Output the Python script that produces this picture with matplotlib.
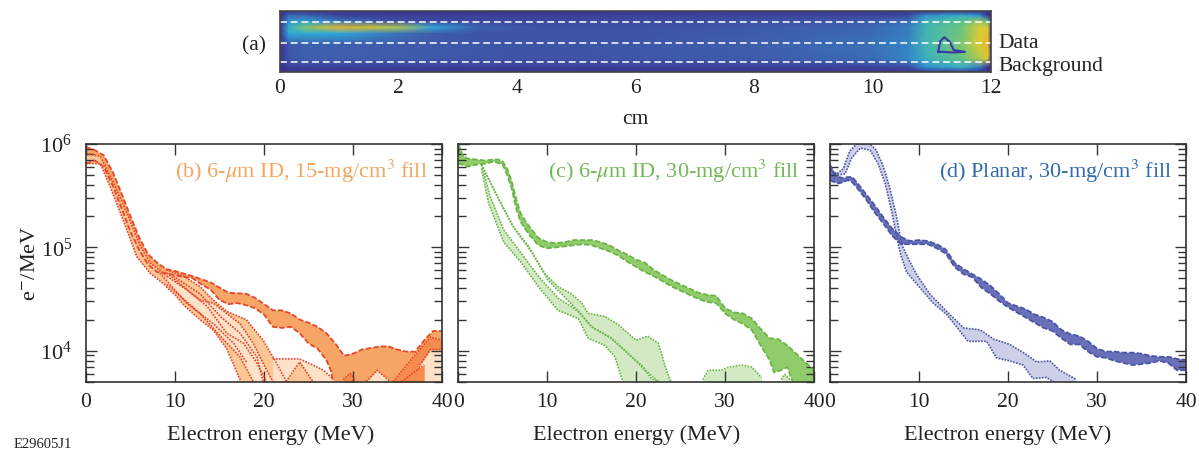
import numpy as np
import matplotlib
matplotlib.use('Agg')
import matplotlib.pyplot as plt
from matplotlib.colors import LinearSegmentedColormap

plt.rcParams['font.family'] = ['Liberation Serif', 'DejaVu Serif']
plt.rcParams['mathtext.fontset'] = 'stix'

W, H = 1199, 451

# Panel (a) image, read by eye on a coarse grid
img_x = [0, 0.15, 0.4, 1, 2, 2.6, 3.3, 4.5, 6, 8, 10, 10.6, 10.9, 11.5, 11.8, 11.95, 12]
img_y = [0, 0.08, 0.17, 0.27, 0.37, 0.55, 0.78, 0.92, 1]
img_z = [
    [.02, .04, .05, .05, .04, .04, .04, .04, .04, .05, .05, .05, .05, .06, .04, .02, .02],
    [.03, .24, .24, .10, .09, .09, .09, .09, .10, .11, .12, .14, .34, .46, .35, .05, .02],
    [.03, .35, .38, .28, .14, .13, .13, .13, .14, .16, .20, .25, .48, .60, .70, .62, .03],
    [.04, .45, .66, .92, .74, .40, .22, .16, .16, .19, .23, .29, .50, .64, .80, .80, .04],
    [.04, .40, .42, .40, .26, .20, .17, .17, .17, .20, .24, .29, .50, .64, .80, .85, .04],
    [.04, .19, .21, .21, .20, .19, .18, .17, .18, .21, .26, .31, .50, .66, .80, .90, .04],
    [.04, .17, .21, .21, .20, .19, .18, .17, .18, .20, .24, .31, .47, .62, .74, .80, .03],
    [.03, .09, .11, .11, .11, .09, .09, .09, .09, .10, .12, .14, .34, .46, .30, .03, .02],
    [.02, .03, .04, .04, .04, .04, .04, .04, .04, .04, .05, .05, .05, .06, .03, .02, .02],
]
contour_x = [11.11, 11.14, 11.21, 11.30, 11.37, 11.56, 11.37, 11.19, 11.11]
contour_y = [0.67, 0.50, 0.43, 0.50, 0.64, 0.67, 0.68, 0.67, 0.67]
dash_y = [0.175, 0.53, 0.84]
img_ticks = [0, 2, 4, 6, 8, 10, 12]

# Panel (b), values are log10(e-/MeV)
b_main_xh = [0, 1, 2, 3, 4, 5, 6, 7, 8, 9, 10, 12, 14, 15, 16, 18, 19, 20, 21, 22, 23, 24, 25, 26, 27, 28, 29, 30, 31, 33, 34, 35, 36, 37, 38, 39, 40]
b_main_yh = [5.97, 5.94, 5.89, 5.73, 5.52, 5.30, 5.09, 4.93, 4.85, 4.79, 4.77, 4.72, 4.66, 4.61, 4.56, 4.55, 4.51, 4.45, 4.39, 4.39, 4.36, 4.30, 4.27, 4.23, 4.17, 4.07, 3.95, 3.97, 4.01, 4.04, 4.04, 4.01, 3.99, 3.99, 4.10, 4.19, 4.19]
b_main_xl = [0, 1, 2, 3, 4, 5, 6, 7, 8, 9, 10, 12, 13, 14, 15, 16, 17, 18, 19, 20, 21, 22, 23, 24, 25, 26, 27, 27.5, 28, 40]
b_main_yl = [5.81, 5.84, 5.78, 5.60, 5.38, 5.15, 4.97, 4.83, 4.76, 4.75, 4.73, 4.70, 4.64, 4.59, 4.49, 4.45, 4.46, 4.44, 4.41, 4.35, 4.23, 4.22, 4.23, 4.17, 4.07, 4.02, 3.91, 3.81, 3.60, 3.60]
b_start_xh = [0, 1.6, 3.1, 4.6, 6.1, 7.2, 9.1]
b_start_yh = [5.91, 5.88, 5.62, 5.33, 5.01, 4.85, 4.72]
b_start_xl = [0, 1.6, 2.7, 4.2, 5.7, 7.2, 9.1]
b_start_yl = [5.81, 5.81, 5.59, 5.26, 4.91, 4.75, 4.62]
b_one_xh = [9, 10, 11, 12.8, 14.3, 15.8, 18, 19.9, 21.4, 22.5]
b_one_yh = [4.78, 4.75, 4.72, 4.62, 4.49, 4.38, 4.30, 4.10, 3.88, 3.70]
b_one_xl = [9, 10, 11, 12.8, 14.3, 15.8, 17.3, 18, 22.5]
b_one_yl = [4.62, 4.54, 4.44, 4.30, 4.20, 4.02, 3.72, 3.60, 3.60]
b_two_xh = [9.1, 12.8, 14.3, 17.3, 18.8, 20.3, 21]
b_two_yh = [4.75, 4.49, 4.46, 4.26, 4.07, 3.81, 3.70]
b_two_xl = [9.1, 12.8, 15.1, 17.3, 18.8, 21]
b_two_yl = [4.64, 4.36, 4.14, 3.94, 3.70, 3.60]
# extra dotted curves inside the bundle
b_lines = [
    ([9.1, 11.3, 13.6, 15.8, 17.7, 19.2, 20.3], [4.72, 4.59, 4.43, 4.17, 4.07, 3.88, 3.70]),
    ([9.8, 12.8, 15.1, 17.3, 19.2, 19.9], [4.72, 4.55, 4.33, 4.17, 3.94, 3.70]),
    ([8.3, 11.3, 14.3, 16.6, 18.1], [4.75, 4.46, 4.26, 4.07, 3.88]),
]
# pieces that only just rise above the bottom axis: x, top, fill kind
b_humps = [
    ([21, 24, 25.5, 26.7, 27.8], [3.92, 3.92, 3.86, 3.81, 3.72], 'pale'),
    ([22.5, 24, 25.5], [3.70, 3.89, 3.70], 'light'),
    ([34.5, 36.8, 38.7, 40], [3.70, 3.94, 4.13, 4.10], 'deep'),
    ([37.5, 38.7, 40], [3.86, 4.01, 4.01], 'pale'),
    ([35.5, 37, 38], [3.70, 3.80, 3.86], 'deep'),
    ([31.5, 32.7, 34.2], [3.70, 3.81, 3.70], 'pale'),
    ([28.9, 29.7, 30.2], [3.72, 3.78, 3.72], 'deep'),
]

# Panel (c)
c_main_xh = [0, .5, 1, 2, 3, 4, 4.5, 5, 5.5, 6, 6.5, 7, 7.5, 8, 9, 10, 11, 12, 13, 14, 15, 16, 17, 18, 19, 20, 21, 22, 23, 24, 25, 26, 27, 28, 29, 30, 31, 32, 33, 34, 35, 36, 37, 38, 39, 40]
c_main_yh = [6.00, 5.89, 5.86, 5.85, 5.84, 5.85, 5.85, 5.83, 5.76, 5.64, 5.47, 5.33, 5.26, 5.20, 5.09, 5.05, 5.04, 5.05, 5.07, 5.07, 5.07, 5.05, 5.02, 4.97, 4.93, 4.88, 4.85, 4.78, 4.73, 4.68, 4.64, 4.60, 4.56, 4.54, 4.53, 4.41, 4.37, 4.36, 4.31, 4.21, 4.12, 4.11, 4.05, 3.97, 3.89, 3.81]
c_main_xl = [0, .5, 1, 2, 3, 4, 5, 5.5, 6, 6.5, 7, 7.5, 8, 9, 10, 11, 12, 13, 14, 15, 16, 17, 18, 19, 20, 21, 22, 23, 24, 25, 26, 27, 28, 29, 30, 31, 32, 33, 34, 35, 35.5, 36, 37, 38, 40]
c_main_yl = [5.81, 5.80, 5.78, 5.80, 5.81, 5.83, 5.80, 5.70, 5.57, 5.38, 5.25, 5.18, 5.12, 5.02, 4.99, 5.00, 5.01, 5.02, 5.03, 5.02, 4.99, 4.96, 4.92, 4.86, 4.81, 4.76, 4.72, 4.67, 4.62, 4.58, 4.54, 4.50, 4.47, 4.46, 4.36, 4.30, 4.26, 4.20, 4.05, 3.91, 3.79, 3.80, 3.84, 3.60, 3.60]
c_up_xh = [2.6, 4.5, 6.0, 7.9, 9.7, 11.2, 12.7, 13.9, 14.6, 16.5, 18.0, 20.0, 21.3, 22.5, 23.4, 23.9]
c_up_yh = [5.80, 5.47, 5.22, 5.01, 4.75, 4.62, 4.55, 4.46, 4.36, 4.33, 4.25, 4.10, 4.14, 4.07, 3.81, 3.70]
c_up_xl = [2.6, 4.9, 6.4, 8.2, 10.1, 11.6, 13.5, 15.0, 17.2, 19.5, 21.0, 22.5]
c_up_yl = [5.80, 5.41, 5.17, 4.96, 4.68, 4.55, 4.38, 4.23, 4.12, 3.94, 3.81, 3.70]
c_low_xh = [2.6, 3.6, 5.1, 7.1, 9.0, 11.2, 13.5, 15.0, 17.2, 19.5, 20.6, 21.7, 22.5]
c_low_yh = [5.80, 5.49, 5.17, 4.94, 4.72, 4.51, 4.38, 4.23, 4.12, 3.94, 3.86, 3.73, 3.70]
c_low_xl = [2.6, 3.4, 5.1, 7.1, 9.0, 11.2, 13.5, 14.6, 16.5, 17.6, 18.5]
c_low_yl = [5.76, 5.43, 5.05, 4.85, 4.62, 4.39, 4.31, 4.12, 4.05, 3.94, 3.70]
c_humps = [
    ([27.5, 28.1, 29.6, 30.4, 31.9, 33, 34.1], [3.72, 3.81, 3.81, 3.84, 3.86, 3.84, 3.74], 'pale'),
    ([36.3, 36.7, 37.3], [3.72, 3.77, 3.72], 'pale'),
]

# Panel (d)
d_main_x = [0, .5, 1, 1.5, 2, 2.5, 3, 4, 5, 6, 7, 8, 9, 10, 11, 12, 13, 14, 15, 16, 17, 18, 19, 20, 21, 22, 23, 24, 25, 26, 27, 28, 29, 30, 31, 32, 33, 34, 35, 36, 37, 38, 39, 40]
d_main_yh = [5.80, 5.71, 5.68, 5.67, 5.68, 5.68, 5.63, 5.52, 5.41, 5.29, 5.18, 5.10, 5.06, 5.07, 5.06, 5.03, 4.98, 4.85, 4.79, 4.74, 4.69, 4.63, 4.55, 4.46, 4.43, 4.40, 4.35, 4.32, 4.28, 4.20, 4.16, 4.14, 4.09, 4.02, 3.99, 3.99, 3.98, 3.98, 3.97, 3.95, 3.94, 3.94, 3.92, 3.91]
d_main_yl = [5.65, 5.63, 5.62, 5.63, 5.65, 5.63, 5.58, 5.47, 5.34, 5.23, 5.11, 5.03, 5.03, 5.03, 5.03, 4.99, 4.94, 4.81, 4.74, 4.71, 4.61, 4.55, 4.48, 4.42, 4.37, 4.32, 4.27, 4.22, 4.19, 4.12, 4.06, 4.06, 3.99, 3.94, 3.93, 3.90, 3.88, 3.86, 3.87, 3.88, 3.90, 3.88, 3.81, 3.81]
d_hump_xh = [0, .75, 1.5, 2.2, 3, 4.5, 5.2, 6, 6.7, 7.5, 7.9, 8.2, 8.8, 9.7, 11.2, 13.1, 15, 16.9, 18.4, 20.2, 22.1, 23.2, 24.7, 25.8, 27.7]
d_hump_yh = [5.76, 5.71, 5.76, 5.93, 6.00, 6.00, 5.94, 5.78, 5.58, 5.29, 5.10, 5.00, 4.89, 4.74, 4.55, 4.38, 4.22, 4.20, 4.11, 4.06, 3.96, 3.89, 3.90, 3.81, 3.72]
d_hump_xl = [0, .9, 1.7, 2.4, 3.4, 4.5, 5.4, 6.2, 6.9, 7.5, 7.9, 8.6, 10.1, 11.6, 13.1, 14.6, 15.5, 17.6, 18.7, 20.2, 21.7, 22.8, 24.3, 25.1, 27.7]
d_hump_yl = [5.75, 5.70, 5.71, 5.86, 5.96, 5.94, 5.81, 5.62, 5.36, 5.10, 4.94, 4.76, 4.61, 4.46, 4.35, 4.19, 4.09, 4.09, 3.93, 3.90, 3.86, 3.73, 3.74, 3.70, 3.60]

energy_ticks = [0, 10, 20, 30, 40]
count_ticks = [1e4, 1e5, 1e6]

DOTS = (0, (1, 0.8))
DASH = (0, (3, 1.2))


def add_axes(left, top, right, bottom):
    return fig.add_axes([left / W, 1 - bottom / H, (right - left) / W, (bottom - top) / H])


def band(ax, xh, yh, xl, yl, fill, edge, ls, lw):
    xs = np.r_[xh, np.array(xl)[::-1]]
    ys = 10.0 ** np.r_[yh, np.array(yl)[::-1]]
    ax.fill(xs, ys, color=fill, lw=0)
    ax.plot(xh, 10.0 ** np.array(yh), color=edge, ls=ls, lw=lw)
    ax.plot(xl, 10.0 ** np.array(yl), color=edge, ls=ls, lw=lw)


def hump(ax, x, top, fill, edge):
    ax.fill_between(x, 10.0 ** np.array(top), 1e3, color=fill, lw=0)
    ax.plot(x, 10.0 ** np.array(top), color=edge, ls=DOTS, lw=1.2)


def style_panel(ax, text, color, ylabels=False):
    ax.set_yscale('log')
    ax.set_xlim(0, 40)
    ax.set_ylim(5e3, 1e6)
    ax.set_xticks(energy_ticks)
    ax.set_yticks(count_ticks)
    ax.tick_params(which='major', direction='in', top=True, right=True, length=8,
                   width=1.0, color='#333333', labelsize=15.5, labelcolor='#222222', pad=8)
    ax.tick_params(which='minor', direction='in', right=True, length=6, width=1.0, color='#333333')
    ax.tick_params(axis='y', labelleft=ylabels, pad=10, labelsize=16)
    for s in ax.spines.values():
        s.set_linewidth(1.2)
        s.set_color('#333333')
    ax.set_xlabel('Electron energy (MeV)', fontsize=16, color='#222222', labelpad=10)
    ax.text(0.96, 0.885, text, transform=ax.transAxes, ha='right', va='center', fontsize=16, color=color)


fig = plt.figure(figsize=(W / 100, H / 100), dpi=100)

# (a) image strip
cmap = LinearSegmentedColormap.from_list('strip', [
    (0.0, '#38298a'), (0.2, '#3f5cab'), (0.4, '#2da8dc'), (0.6, '#55c28d'),
    (0.8, '#d9cc35'), (1.0, '#f2a71e')])
ax0 = add_axes(280, 11, 991, 72)
ax0.pcolormesh(img_x, img_y, np.array(img_z), cmap=cmap, vmin=0, vmax=1, shading='gouraud')
ax0.plot(contour_x, contour_y, color='#3a3aa0', lw=1.5)
for yy in dash_y:
    ax0.plot([0, 12], [yy, yy], color='white', lw=1.1, dashes=(4.5, 2.5))
ax0.set_xlim(0, 12)
ax0.set_ylim(1, 0)
ax0.set_xticks(img_ticks)
ax0.set_yticks([])
ax0.tick_params(length=0, labelsize=15.5, labelcolor='#222222', pad=5)
for s in ax0.spines.values():
    s.set_linewidth(1.2)
    s.set_color('#444444')
fig.text(254 / W, 1 - 46 / H, '(a)', ha='center', va='center', fontsize=15.5, color='#222222')
fig.text(998 / W, 1 - 44 / H, 'Data', ha='left', va='center', fontsize=15.5, color='#222222')
fig.text(998 / W, 1 - 67 / H, 'Background', ha='left', va='center', fontsize=15.5, color='#222222')
fig.text(635 / W, 1 - 120 / H, 'cm', ha='center', va='center', fontsize=15.5, color='#222222')

# (b)
red = '#e9452a'
orange = {'pale': '#fde2c8', 'light': '#fbc795', 'dark': '#f7a566', 'deep': '#f58b4e'}
ax1 = add_axes(86, 144, 442, 381.7)
band(ax1, b_main_xh, b_main_yh, b_main_xl, b_main_yl, orange['dark'], red, DASH, 1.3)
band(ax1, b_start_xh, b_start_yh, b_start_xl, b_start_yl, orange['light'], red, DOTS, 1.2)
band(ax1, b_one_xh, b_one_yh, b_one_xl, b_one_yl, orange['light'], red, DOTS, 1.2)
band(ax1, b_two_xh, b_two_yh, b_two_xl, b_two_yl, orange['pale'], red, DOTS, 1.2)
for x, top in b_lines:
    ax1.plot(x, 10.0 ** np.array(top), color=red, ls=DOTS, lw=1.2)
for x, top, kind in b_humps:
    hump(ax1, x, top, orange[kind], red)
style_panel(ax1, r'(b) 6-$\mu$m ID, 15-mg/cm$^3$ fill', '#f5a55f', ylabels=True)
ax1.set_ylabel('e$^{-}$/MeV', fontsize=16, color='#222222', labelpad=0)
ax1.xaxis.label.set_x(0.52)

# (c)
green = '#69b545'
ax2 = add_axes(458.3, 144, 814, 381.7)
band(ax2, c_main_xh, c_main_yh, c_main_xl, c_main_yl, '#90cb6c', green, DASH, 1.3)
band(ax2, c_up_xh, c_up_yh, c_up_xl, c_up_yl, '#d3e9c4', green, DOTS, 1.2)
band(ax2, c_low_xh, c_low_yh, c_low_xl, c_low_yl, '#d3e9c4', green, DOTS, 1.2)
for x, top, kind in c_humps:
    hump(ax2, x, top, '#d3e9c4', green)
style_panel(ax2, r'(c) 6-$\mu$m ID, 30-mg/cm$^3$ fill', '#73b856')

# (d)
blue = '#4a55a5'
ax3 = add_axes(830, 144, 1186, 381.7)
band(ax3, d_hump_xh, d_hump_yh, d_hump_xl, d_hump_yl, '#cdcfe8', blue, DOTS, 1.2)
band(ax3, d_main_x, d_main_yh, d_main_x, d_main_yl, '#6a70b8', blue, DASH, 1.3)
style_panel(ax3, r'(d) Planar, 30-mg/cm$^3$ fill', '#2f6aad')

fig.text(14 / W, 1 - 445 / H, 'E29605J1', ha='left', va='center', fontsize=10.5, color='#222222')

fig.savefig('out.png', dpi=100)
